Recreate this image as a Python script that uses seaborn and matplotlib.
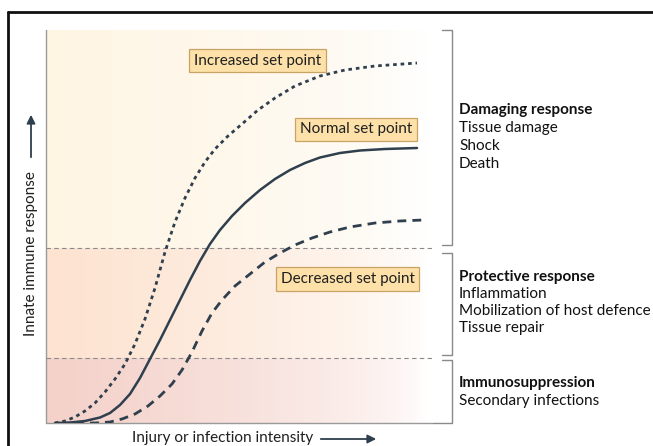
import numpy as np
import matplotlib
matplotlib.use("Agg")
import matplotlib.pyplot as plt
from matplotlib.lines import Line2D
from matplotlib.patches import FancyArrowPatch
import seaborn as sns

# Curves (x: intensity 0-406, y: response 0-393)
normal_x = [9, 24, 39, 54, 64, 74, 84, 94, 104, 114, 124, 134, 144, 154, 164, 174,
            186, 199, 214, 229, 244, 259, 274, 294, 314, 339, 371]
normal_y = [0, 0.5, 2, 5.5, 10, 18, 29, 45, 64, 83, 103, 123, 143, 162, 179, 193,
            207, 220, 233, 244, 253, 260, 265.5, 270, 272.5, 274, 275]

increased_x = [9, 19, 29, 39, 49, 59, 69, 79, 89, 99, 109, 119, 129, 139, 149, 159,
               169, 182, 196, 212, 229, 249, 274, 299, 329, 371]
increased_y = [0, 2, 6, 12, 20, 31, 44, 59, 79, 104, 135, 171, 201, 225, 245, 261,
               274, 287, 299, 313, 325, 337, 347, 353, 357, 360]

decreased_x = [29, 49, 64, 76, 89, 102, 114, 126, 136, 146, 156, 166, 176, 189, 204,
               219, 234, 249, 266, 284, 304, 329, 354, 377]
decreased_y = [0, 0, 1, 4, 9, 17, 27, 39, 53, 71, 92, 110, 123, 137, 149, 161, 170,
               178, 185, 191, 196, 200, 202, 203]

# response zones and their descriptions
zone_edges = [0, 65, 175, 393]
zone_colors = ["#f4d1c9", "#fde3d0", "#fef5e3"]
zone_titles = ["Immunosuppression", "Protective response", "Damaging response"]
zone_items = [["Secondary infections"],
              ["Inflammation", "Mobilization of host defence", "Tissue repair"],
              ["Tissue damage", "Shock", "Death"]]
brackets = [(0, 63), (68, 170), (178, 393)]

set_point_labels = ["Increased set point", "Normal set point", "Decreased set point"]
set_point_pos = [(211.5, 362.5), (310, 293.5), (301.5, 144)]

sns.set_style("white")
plt.rcParams['font.family'] = ['Lato', 'DejaVu Sans']

W, H = 653, 446
fig = plt.figure(figsize=(W / 100, H / 100), dpi=100)
ax = fig.add_axes([46 / W, 1 - 423 / H, 406 / W, 393 / H])
ax.set_xlim(0, 406)
ax.set_ylim(0, 393)
ax.axis("off")
x_end = 387

# background bands fading to white towards the right
cols = np.linspace(0, 1, 300)
fade = np.clip(1 - cols / 0.98, 0, 1) ** 0.6
for lo, hi, c in zip(zone_edges[:-1], zone_edges[1:], zone_colors):
    rgb = np.array(matplotlib.colors.to_rgb(c))
    img = 1 - (1 - rgb)[None, None, :] * fade[None, :, None]
    ax.imshow(img, extent=[0, x_end, lo, hi], aspect="auto", zorder=0)

# spines
ax.plot([0, 0], [0, 393], color="#9a9a9a", lw=1.0, clip_on=False, zorder=1)
ax.plot([0, x_end], [0, 0], color="#9a9a9a", lw=1.0, clip_on=False, zorder=1)

# zone boundaries
for y in zone_edges[1:-1]:
    ax.plot([0, x_end], [y, y], color="#8a8a8a", lw=0.8, ls=(0, (4, 3)), zorder=1)

# brackets
for lo, hi in brackets:
    ax.plot([396, 406, 406, 396], [lo, lo, hi, hi], color="#8a8a8a", lw=1.0,
            clip_on=False, zorder=1)
ax.plot([x_end, 396], [0, 0], color="#8a8a8a", lw=1.0, clip_on=False)

curve_col = "#2f3f4e"
sns.lineplot(x=normal_x, y=normal_y, ax=ax, color=curve_col, lw=1.8, sort=False,
             estimator=None, zorder=3)
sns.lineplot(x=increased_x, y=increased_y, ax=ax, color=curve_col, lw=2.0, sort=False,
             estimator=None, linestyle=(0, (1.3, 1.4)), zorder=3)
sns.lineplot(x=decreased_x, y=decreased_y, ax=ax, color=curve_col, lw=2.0, sort=False,
             estimator=None, linestyle=(0, (3.2, 2.2)), zorder=3)

for lab, (px, py) in zip(set_point_labels, set_point_pos):
    ax.text(px, py, lab, ha="center", va="center", fontsize=11, color="#1f1f1f",
            bbox=dict(boxstyle="square,pad=0.3", fc="#fde1a9", ec="#c9a266", lw=0.9),
            zorder=4)

# right-hand annotations (pixel rows)
text_rows = [[383, 401], [277, 294, 311, 328], [110, 128, 146, 164]]
for title, items, rows in zip(zone_titles, zone_items, text_rows):
    fig.text(459 / W, 1 - rows[0] / H, title, ha="left", va="center",
             fontsize=11, fontweight="bold", color="#111111")
    for it, r in zip(items, rows[1:]):
        fig.text(459 / W, 1 - r / H, it, ha="left", va="center",
                 fontsize=11, color="#111111")

# axis labels with arrows
fig.text(31 / W, 1 - 254 / H, "Innate immune response", rotation=90, ha="center",
         va="center", fontsize=11, color="#1f1f1f")
fig.add_artist(FancyArrowPatch(
    (31 / W, 1 - 160 / H), (31 / W, 1 - 112 / H), transform=fig.transFigure,
    arrowstyle="-|>,head_length=5,head_width=2.5", color="#2f3f4e", lw=1.3))
fig.text(223 / W, 1 - 438 / H, "Injury or infection intensity", ha="center",
         va="center", fontsize=11, color="#1f1f1f")
fig.add_artist(FancyArrowPatch(
    (318 / W, 1 - 439 / H), (379 / W, 1 - 439 / H), transform=fig.transFigure,
    arrowstyle="-|>,head_length=5,head_width=2.5", color="#2f3f4e", lw=1.3))

# outer frame (top and left edges visible)
fig.add_artist(Line2D([8 / W, 1], [1 - 12 / H, 1 - 12 / H], transform=fig.transFigure,
                      color="#111111", lw=2.0))
fig.add_artist(Line2D([8 / W, 8 / W], [0, 1 - 12 / H], transform=fig.transFigure,
                      color="#111111", lw=2.0))

fig.savefig("out.png", dpi=100)
